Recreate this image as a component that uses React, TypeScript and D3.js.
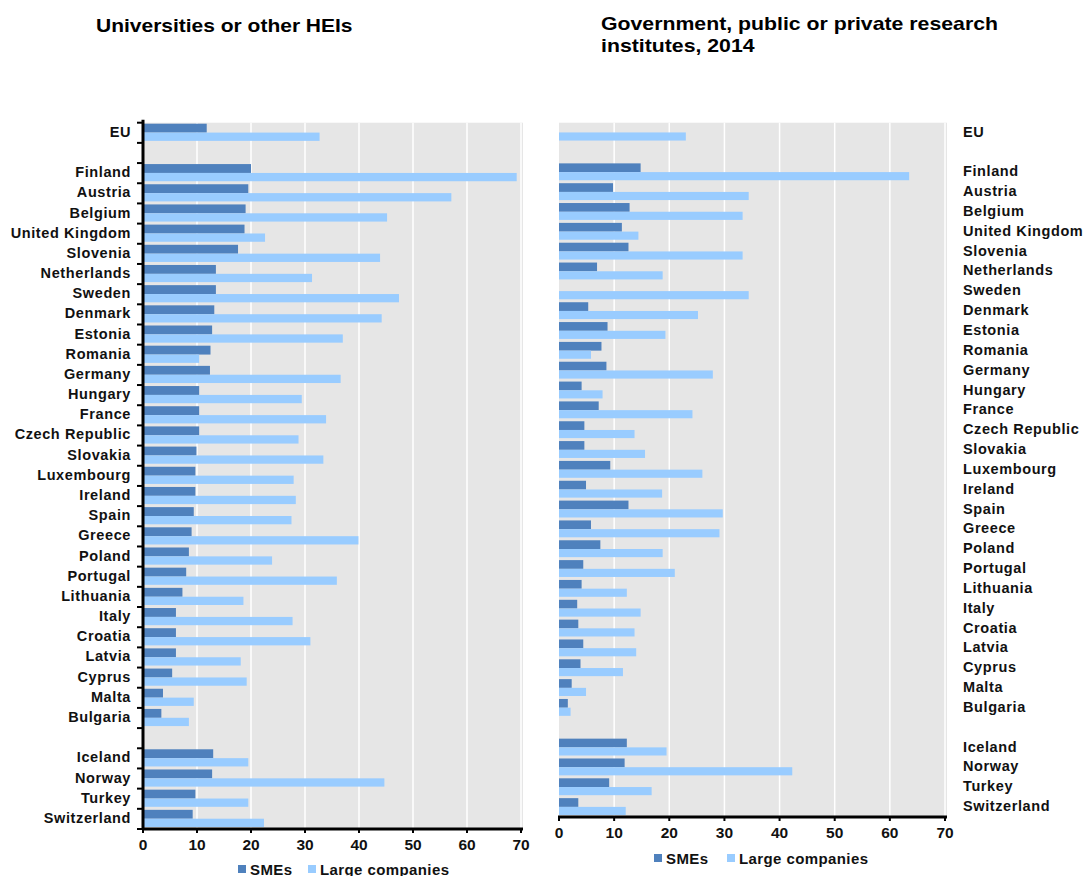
import React from "react";
import * as d3 from "d3";

const leftCats = ["EU","","Finland","Austria","Belgium","United Kingdom","Slovenia","Netherlands","Sweden","Denmark","Estonia","Romania","Germany","Hungary","France","Czech Republic","Slovakia","Luxembourg","Ireland","Spain","Greece","Poland","Portugal","Lithuania","Italy","Croatia","Latvia","Cyprus","Malta","Bulgaria"," ","Iceland","Norway","Turkey","Switzerland"];
const leftSME = [11.8,null,20.0,19.5,19.0,18.8,17.6,13.5,13.5,13.2,12.8,12.5,12.4,10.4,10.4,10.4,9.9,9.7,9.7,9.4,9.0,8.5,8.0,7.3,6.1,6.1,6.1,5.4,3.7,3.4,null,13.0,12.8,9.7,9.2];
const leftLarge = [32.7,null,69.2,57.1,45.2,22.6,43.9,31.3,47.4,44.2,37.0,10.4,36.6,29.4,33.9,28.8,33.4,27.9,28.3,27.5,39.9,23.9,35.9,18.6,27.7,31.0,18.1,19.2,9.4,8.5,null,19.5,44.7,19.5,22.4];

const rightCats = ["EU","","Finland","Austria","Belgium","United Kingdom","Slovenia","Netherlands","Sweden","Denmark","Estonia","Romania","Germany","Hungary","France","Czech Republic","Slovakia","Luxembourg","Ireland","Spain","Greece","Poland","Portugal","Lithuania","Italy","Croatia","Latvia","Cyprus","Malta","Bulgaria"," ","Iceland","Norway","Turkey","Switzerland"];
const rightSME = [null,null,14.8,9.8,12.8,11.4,12.6,6.9,null,5.3,8.8,7.7,8.6,4.1,7.2,4.6,4.6,9.3,4.9,12.6,5.8,7.5,4.4,4.1,3.3,3.5,4.4,3.9,2.3,1.6,null,12.3,11.9,9.1,3.5];
const rightLarge = [23.0,null,63.5,34.4,33.3,14.4,33.3,18.8,34.4,25.2,19.3,5.8,27.9,7.9,24.2,13.7,15.6,26.0,18.7,29.7,29.1,18.8,21.0,12.3,14.8,13.7,14.0,11.6,4.9,2.1,null,19.5,42.3,16.8,12.1];

const xTicks = [0,10,20,30,40,50,60,70];
const seriesNames = ["SMEs","Large companies"];
const SME_COLOR = "#4F81BD";
const LARGE_COLOR = "#99CCFF";
const FONT = "'Liberation Sans', Arial, sans-serif";

type PanelProps = {
  cats: string[]; sme: (number|null)[]; large: (number|null)[];
  x0: number; x1: number; y0: number; y1: number;
  labelSide: "left"|"right"; leftAxis: boolean;
  legendY: number; legendX: number; legendX2: number;
};

function Panel(p: PanelProps) {
  const x = d3.scaleLinear().domain([0,70]).range([p.x0,p.x1]);
  const idx = p.cats.map((_,i)=>String(i));
  const y = d3.scaleBand().domain(idx).range([p.y0,p.y1]).padding(0);
  const bw = y.bandwidth();
  return (
    <g>
      <rect x={p.x0} y={p.y0} width={p.x1-p.x0+2} height={p.y1-p.y0} fill="#E6E6E6" />
      {xTicks.slice(1).map(t => (
        <line key={t} x1={x(t)} x2={x(t)} y1={p.y0} y2={p.y1} stroke="#fff" strokeWidth={1.5} />
      ))}
      {p.cats.map((c,i) => {
        const top = y(String(i))!;
        const s = p.sme[i]; const l = p.large[i];
        return (
          <g key={i}>
            {s != null && <rect x={x(0)} y={top+bw*0.05} width={x(s)-x(0)} height={bw*0.44} fill={SME_COLOR} />}
            {l != null && <rect x={x(0)} y={top+bw*0.49} width={x(l)-x(0)} height={bw*0.41} fill={LARGE_COLOR} />}
            {c.trim() !== "" && (
              <text x={p.labelSide==="left" ? 131 : 963} y={top+bw/2+4}
                textAnchor={p.labelSide==="left" ? "end" : "start"}
                fontFamily={FONT} fontWeight="bold" fontSize={14.5} letterSpacing={0.6} fill="#111">{c}</text>
            )}
          </g>
        );
      })}
      {p.leftAxis && (
        <g>
          <line x1={p.x0} x2={p.x0} y1={p.y0-3} y2={p.y1} stroke="#000" strokeWidth={3} />
          {d3.range(p.cats.length+1).map(i => (
            <line key={i} x1={p.x0-6} x2={p.x0} y1={p.y0+i*bw} y2={p.y0+i*bw} stroke="#000" strokeWidth={2} />
          ))}
        </g>
      )}
      <line x1={p.x0-1} x2={p.x1+2} y1={p.y1} y2={p.y1} stroke="#000" strokeWidth={3} />
      {xTicks.map(t => (
        <g key={t}>
          <line x1={x(t)} x2={x(t)} y1={p.y1} y2={p.y1+4} stroke="#000" strokeWidth={2} />
          <text x={x(t)} y={p.y1+21} textAnchor="middle" fontFamily={FONT} fontWeight="bold" fontSize={15.5} fill="#111">{t}</text>
        </g>
      ))}
      <rect x={p.legendX} y={p.legendY-4} width={8} height={8} fill={SME_COLOR} />
      <text x={p.legendX+12} y={p.legendY+5.5} fontFamily={FONT} fontWeight="bold" fontSize={15} letterSpacing={0.4} fill="#111">{seriesNames[0]}</text>
      <rect x={p.legendX2} y={p.legendY-4} width={8} height={8} fill={LARGE_COLOR} />
      <text x={p.legendX2+12} y={p.legendY+5.5} fontFamily={FONT} fontWeight="bold" fontSize={15} letterSpacing={0.4} fill="#111">{seriesNames[1]}</text>
    </g>
  );
}

export default function App() {
  return (
    <svg width={1087} height={876} style={{position:"absolute", left:0, top:0, background:"#fff"}}>
      <rect x={0} y={0} width={1087} height={876} fill="#fff" />
      <text x={96} y={32} fontFamily={FONT} fontWeight="bold" fontSize={17.5} fill="#000" transform="translate(96,0) scale(1.2,1) translate(-96,0)">Universities or other HEIs</text>
      <text x={601} y={30} fontFamily={FONT} fontWeight="bold" fontSize={17.5} fill="#000" transform="translate(601,0) scale(1.215,1) translate(-601,0)">
        <tspan x={601} y={30}>Government, public or private research</tspan>
        <tspan x={601} y={52}>institutes, 2014</tspan>
      </text>
      <Panel cats={leftCats} sme={leftSME} large={leftLarge} x0={143} x1={521} y0={122.7} y1={829}
        labelSide="left" leftAxis={true} legendY={869} legendX={238} legendX2={308} />
      <Panel cats={rightCats} sme={rightSME} large={rightLarge} x0={559} x1={945} y0={122.7} y1={817}
        labelSide="right" leftAxis={false} legendY={858} legendX={654} legendX2={727} />
    </svg>
  );
}
